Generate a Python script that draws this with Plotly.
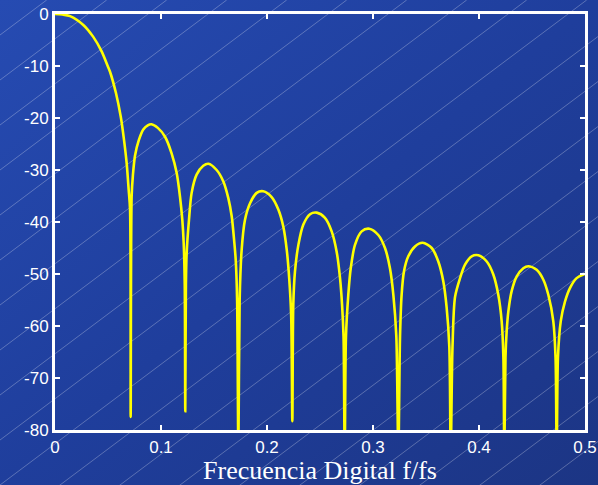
import base64
import plotly.graph_objects as go

# ---- data ----
freq = [
    0.0, 0.007, 0.0142, 0.0267, 0.0361, 0.0440, 0.0497, 0.0519, 0.0575, 0.0620,
    0.0651, 0.0676, 0.0695, 0.0708, 0.0714, 0.0723, 0.0735, 0.0755, 0.0790, 0.0833,
    0.0875, 0.0910, 0.0970, 0.1038, 0.1100, 0.1148, 0.1179, 0.1201, 0.1214, 0.1224,
    0.1229, 0.1235, 0.1242, 0.1264, 0.1289, 0.1336, 0.1399, 0.1447, 0.1525, 0.1588,
    0.1635, 0.1667, 0.1692, 0.1705, 0.1718, 0.1730, 0.1742, 0.1761, 0.1792, 0.1840,
    0.1903, 0.1965, 0.2044, 0.2107, 0.2154, 0.2186, 0.2210, 0.2228, 0.2239, 0.2248,
    0.2264, 0.2296, 0.2343, 0.2406, 0.2469, 0.2547, 0.2610, 0.2657, 0.2689, 0.2708,
    0.2722, 0.2733, 0.2745, 0.2767, 0.2790, 0.2830, 0.2893, 0.2965, 0.3050, 0.3113,
    0.3160, 0.3192, 0.3220, 0.3239, 0.3255, 0.3270, 0.3292, 0.3333, 0.3396, 0.3469,
    0.3554, 0.3616, 0.3663, 0.3695, 0.3720, 0.3733, 0.3750, 0.3774, 0.3821, 0.3868,
    0.3931, 0.3994, 0.4073, 0.4135, 0.4182, 0.4214, 0.4230, 0.4239, 0.4250, 0.4261,
    0.4277, 0.4308, 0.4355, 0.4418, 0.4465, 0.4544, 0.4607, 0.4654, 0.4701, 0.4722,
    0.4733, 0.4745, 0.4771, 0.4811, 0.4858, 0.4921, 0.4984, 0.5000,
]
mag_db = [
    0.0, -0.1, -0.4, -2.1, -4.4, -7.2, -10.0, -11.1, -15.2, -19.7,
    -24.2, -28.7, -33.8, -37.6, -77.5, -35.1, -31.0, -27.2, -24.3, -22.2,
    -21.4, -21.2, -21.9, -23.6, -26.8, -30.6, -35.1, -39.6, -44.0, -52.0,
    -76.4, -52.0, -46.0, -39.6, -34.4, -30.9, -29.2, -28.8, -30.0, -32.2,
    -35.4, -38.9, -44.0, -47.3, -55.0, -85.0, -55.0, -45.3, -39.6, -36.4,
    -34.4, -34.1, -35.2, -37.6, -40.9, -45.3, -51.0, -58.0, -78.3, -55.9,
    -49.5, -44.4, -40.5, -38.5, -38.2, -39.2, -41.8, -45.7, -50.8, -55.9,
    -62.0, -85.0, -62.0, -54.0, -48.9, -44.4, -41.8, -41.3, -42.5, -45.0,
    -48.9, -54.0, -62.0, -85.0, -62.0, -54.0, -49.5, -46.6, -44.7, -44.0,
    -45.0, -47.6, -51.4, -56.5, -64.0, -85.0, -64.0, -54.4, -50.8, -48.2,
    -46.6, -46.4, -47.6, -50.1, -54.0, -59.1, -66.0, -85.0, -66.0, -61.0,
    -57.2, -53.3, -50.5, -48.9, -48.5, -49.2, -51.1, -54.0, -59.1, -66.0,
    -85.0, -66.0, -59.1, -55.3, -52.7, -50.8, -50.1, -50.0,
]
x_ticks = [0, 0.1, 0.2, 0.3, 0.4, 0.5]
x_tick_labels = ["0", "0.1", "0.2", "0.3", "0.4", "0.5"]
y_ticks = [0, -10, -20, -30, -40, -50, -60, -70, -80]
y_tick_labels = ["0", "-10", "-20", "-30", "-40", "-50", "-60", "-70", "-80"]
x_title = "Frecuencia Digital f/fs"

# ---- figure geometry ----
W, H = 598, 485
ML, MR, MT, MB = 55, 13, 14, 55
PW, PH = W - ML - MR, H - MT - MB

# background: blue gradient with faint diagonal lines
lines_svg = []
for k in range(21):
    c = 35 + 45 * k
    lines_svg.append(
        f'<line x1="0" y1="{c}" x2="{c/0.75:.1f}" y2="0" '
        'stroke="rgb(255,255,255)" stroke-opacity="0.30" stroke-width="0.9"/>'
    )
svg = (
    f'<svg xmlns="http://www.w3.org/2000/svg" width="{W}" height="{H}" '
    f'viewBox="0 0 {W} {H}" preserveAspectRatio="none">'
    '<defs><linearGradient id="g" x1="0" y1="0" x2="1" y2="1">'
    '<stop offset="0" stop-color="#264bb2"/>'
    '<stop offset="0.5" stop-color="#1f3e9c"/>'
    '<stop offset="1" stop-color="#1c3584"/>'
    '</linearGradient></defs>'
    f'<rect x="0" y="0" width="{W}" height="{H}" fill="url(#g)"/>'
    + "".join(lines_svg)
    + "</svg>"
)
bg_uri = "data:image/svg+xml;base64," + base64.b64encode(svg.encode()).decode()

fig = go.Figure()
fig.add_trace(go.Scatter(
    x=freq, y=mag_db, mode="lines",
    line=dict(color="#ffff00", width=2.6, shape="spline", smoothing=0.8),
    showlegend=False, hoverinfo="skip",
))

tick_font = dict(family="Liberation Sans, Arial, sans-serif", size=17, color="white")
axis_common = dict(
    showline=True, linecolor="white", linewidth=3, mirror="ticks",
    ticks="inside", ticklen=5, tickwidth=2, tickcolor="white",
    showgrid=False, zeroline=False, tickfont=tick_font,
)

fig.update_layout(
    width=W, height=H,
    margin=dict(l=ML, r=MR, t=MT, b=MB, autoexpand=False),
    paper_bgcolor="#1f3e9c",
    plot_bgcolor="rgba(0,0,0,0)",
    images=[dict(
        source=bg_uri, xref="paper", yref="paper",
        x=-ML / PW, y=1 + MT / PH, sizex=W / PW, sizey=H / PH,
        xanchor="left", yanchor="top", sizing="stretch", layer="below",
    )],
    xaxis=dict(
        range=[0, 0.5], tickvals=x_ticks, ticktext=x_tick_labels,
        ticklabelstandoff=0,
        title=dict(text=x_title, standoff=3,
                   font=dict(family="Liberation Serif, Times New Roman, serif",
                             size=26, color="white")),
        **axis_common,
    ),
    yaxis=dict(
        range=[-80, 0], tickvals=y_ticks, ticktext=y_tick_labels,
        **axis_common,
    ),
)

fig.write_html(
    "out.html",
    config={"displayModeBar": False},
    post_script="document.body.style.margin='0';document.body.style.overflow='hidden';",
)
